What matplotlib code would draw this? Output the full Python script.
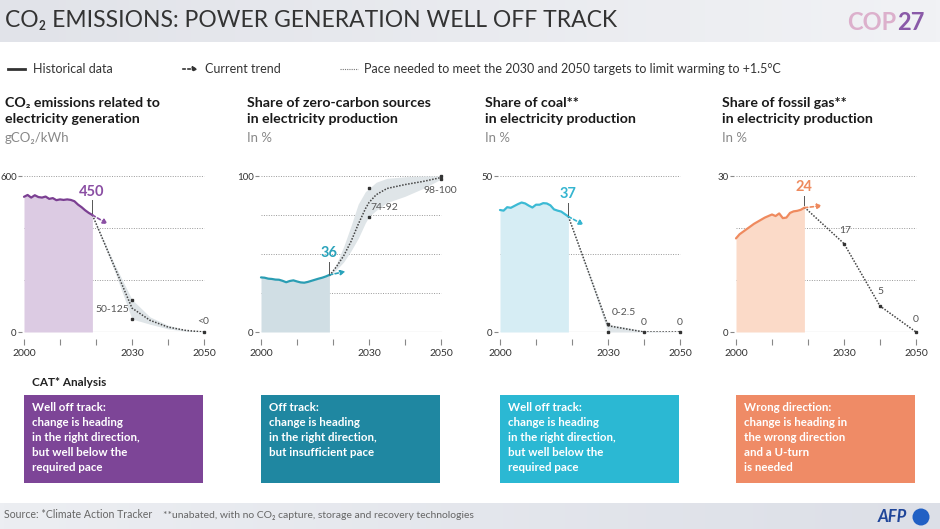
import numpy as np
import matplotlib.pyplot as plt
from matplotlib.patches import Rectangle, Circle
from matplotlib.colors import LinearSegmentedColormap

plt.rcParams['font.family'] = ['Lato', 'DejaVu Sans']

W, H = 940, 529

# historical data 2000-2019
hist_years = list(range(2000, 2020))
co2_hist = [520, 527, 517, 526, 519, 517, 521, 512, 515, 507, 510, 508, 510, 508, 503, 490, 480, 468, 458, 450]
zero_hist = [35, 34.8, 34.2, 34, 33.6, 33.5, 32.8, 31.9, 32.7, 33.1, 32.4, 31.8, 31.6, 32.1, 32.8, 33.5, 34.2, 34.8, 35.6, 36.6]
coal_hist = [39.1, 38.9, 40.0, 39.8, 40.4, 41.0, 41.5, 41.2, 40.5, 39.9, 40.8, 40.8, 41.3, 41.2, 40.6, 39.3, 38.9, 38.6, 37.8, 37.0]
gas_hist = [18.0, 18.8, 19.3, 19.8, 20.3, 20.8, 21.2, 21.6, 22.0, 22.3, 22.6, 22.3, 22.8, 21.9, 22.0, 22.9, 23.2, 23.3, 23.5, 23.9]

# pace needed for 1.5C
co2_pace_years = [2019, 2025, 2030, 2035, 2040, 2045, 2050]
co2_pace = [450, 255, 92, 45, 19, 6, 0]
co2_band_hi = [450, 265, 125, 58, 26, 8, 0]
co2_band_lo = [450, 240, 50, 30, 12, 3, 0]
co2_marks_x = [2030, 2030, 2050]
co2_marks_y = [125, 50, 0]

zero_pace_years = [2019, 2021, 2023, 2025, 2027, 2029, 2030, 2032, 2035, 2040, 2045, 2050]
zero_pace = [36, 42, 49, 58, 69, 79, 83, 88, 92, 94.5, 96.5, 99]
zero_band_hi = [36, 44, 55, 68, 82, 90, 92, 96, 98.5, 99.5, 100, 100]
zero_band_lo = [36, 40, 45, 52, 60, 70, 74, 78, 83, 87, 92, 98]
zero_marks_x = [2030, 2030, 2050, 2050]
zero_marks_y = [92, 74, 98, 100]

coal_pace_years = [2019, 2030, 2040, 2050]
coal_pace = [37, 2, 0, 0]
coal_band_hi = [37, 2.5, 0.4, 0]
coal_band_lo = [37, 0, 0, 0]
coal_marks_x = [2030, 2030, 2040, 2050]
coal_marks_y = [2.5, 0, 0, 0]

gas_pace_years = [2019, 2030, 2040, 2050]
gas_pace = [24, 17, 5, 0]
gas_marks_x = [2030, 2040, 2050]
gas_marks_y = [17, 5, 0]

# current trend arrow end (year, value)
co2_trend = (2023.3, 415)
zero_trend = (2023.5, 38.8)
coal_trend = (2023.3, 34.3)
gas_trend = (2024, 24.3)

titles = ['CO\u2082 emissions related to\nelectricity generation',
          'Share of zero-carbon sources\nin electricity production',
          'Share of coal**\nin electricity production',
          'Share of fossil gas**\nin electricity production']
units = ['gCO\u2082/kWh', 'In %', 'In %', 'In %']
last_labels = ['450', '36', '37', '24']
box_texts = ['Well off track:\nchange is heading\nin the right direction,\nbut well below the\nrequired pace',
             'Off track:\nchange is heading\nin the right direction,\nbut insufficient pace',
             'Well off track:\nchange is heading\nin the right direction,\nbut well below the\nrequired pace',
             'Wrong direction:\nchange is heading in\nthe wrong direction\nand a U-turn\nis needed']


def T(x, y, s, **kw):
    return fig.text(x / W, 1 - y / H, s, **kw)


fig = plt.figure(figsize=(9.4, 5.29), dpi=100)
fig.patch.set_facecolor('white')

# background layer in pixel coords
bg = fig.add_axes([0, 0, 1, 1])
bg.axis('off')
grad = np.linspace(0, 1, 256).reshape(1, -1)
bg.imshow(grad, extent=[0, W, 42, 0], aspect='auto',
          cmap=LinearSegmentedColormap.from_list('h', ['#e1e3e9', '#f1f2f5']))
bg.imshow(grad, extent=[0, W, H, 503], aspect='auto',
          cmap=LinearSegmentedColormap.from_list('f', ['#eceef2', '#dcdfe7']))
bg.set_xlim(0, W)
bg.set_ylim(H, 0)

T(5, 21, 'CO\u2082 EMISSIONS: POWER GENERATION WELL OFF TRACK', fontsize=16.5, color='#333333', va='center')
T(896, 22, 'COP', fontsize=17, color='#dcb0cc', va='center', ha='right', fontweight='bold')
T(897, 22, '27', fontsize=17, color='#8a5aa8', va='center', ha='left', fontweight='bold')

# legend
bg.plot([8, 25], [69, 69], color='#333333', lw=2)
T(33, 69, 'Historical data', fontsize=9, color='#333333', va='center')
bg.annotate('', xy=(201, 69), xytext=(180, 69),
            arrowprops=dict(arrowstyle='-|>', color='#333333', lw=1.2, ls=(0, (1.5, 1.5)), mutation_scale=7))
T(205, 69, 'Current trend', fontsize=9, color='#333333', va='center')
bg.plot([340, 358], [69, 69], color='#777777', lw=0.8, ls=(0, (1, 1)))
T(364, 69, 'Pace needed to meet the 2030 and 2050 targets to limit warming to +1.5\u00b0C',
  fontsize=9, color='#333333', va='center')

panels = [
    dict(hist=co2_hist, py=co2_pace_years, pace=co2_pace, hi=co2_band_hi, lo=co2_band_lo,
         mx=co2_marks_x, my=co2_marks_y, trend=co2_trend, top=600, grid=[200, 400, 600],
         line='#7b3f92', fill='#dccbe3', lab='#8a4ea3', x0=24, lab_y=537, conn=(456, 507)),
    dict(hist=zero_hist, py=zero_pace_years, pace=zero_pace, hi=zero_band_hi, lo=zero_band_lo,
         mx=zero_marks_x, my=zero_marks_y, trend=zero_trend, top=100, grid=[25, 50, 75, 100],
         line='#2a9db3', fill='#d0dee4', lab='#2aa3bb', x0=261, lab_y=50.5, conn=(37.5, 45)),
    dict(hist=coal_hist, py=coal_pace_years, pace=coal_pace, hi=coal_band_hi, lo=coal_band_lo,
         mx=coal_marks_x, my=coal_marks_y, trend=coal_trend, top=50, grid=[25, 50],
         line='#3cbad4', fill='#d6edf4', lab='#35b5d0', x0=500, lab_y=44.1, conn=(37.5, 41.5)),
    dict(hist=gas_hist, py=gas_pace_years, pace=gas_pace, hi=None, lo=None,
         mx=gas_marks_x, my=gas_marks_y, trend=gas_trend, top=30, grid=[10, 20, 30],
         line='#ef8a5e', fill='#fbdac8', lab='#ee8a5e', x0=736, lab_y=27.8, conn=(24.4, 26.2)),
]

ppy = 3.6
title_x = [5, 247, 485, 722]
box_colors = ['#7d4597', '#1f87a1', '#2bb8d3', '#ef8b66']
axes = []
for i, p in enumerate(panels):
    left = p['x0'] - 0.5 * ppy
    ax = fig.add_axes([left / W, 1 - 332 / H, 51 * ppy / W, 156 / H])
    ax.patch.set_alpha(0)
    ax.set_xlim(1999.5, 2050.5)
    ax.set_ylim(0, p['top'])
    for s in ['top', 'right', 'left', 'bottom']:
        ax.spines[s].set_visible(False)
    ax.spines['bottom'].set_position(('outward', 5))
    ax.set_xticks([2000, 2010, 2020, 2030, 2040, 2050])
    ax.set_xticklabels(['2000', '', '', '2030', '', '2050'])
    ax.tick_params(axis='x', length=4, color='#888888', labelsize=7.5, labelcolor='#333333', pad=3)
    ax.set_yticks([0, p['top']])
    ax.tick_params(axis='y', length=3, color='#888888', labelsize=7, labelcolor='#333333', pad=1)
    for g in p['grid']:
        ax.plot([2000, 2050], [g, g], color='#999999', lw=0.7, ls=(0, (1, 1.5)), zorder=1)
    ax.plot([2000, 2050], [0, 0], color='#999999', lw=0.8, zorder=1)

    ax.fill_between(hist_years, p['hist'], 0, color=p['fill'], lw=0, zorder=2)
    ax.plot(hist_years, p['hist'], color=p['line'], lw=1.6, zorder=4, solid_capstyle='round')
    if p['hi'] is not None:
        ax.fill_between(p['py'], p['lo'], p['hi'], color='#dfe5e8', lw=0, zorder=3)
    ax.plot(p['py'], p['pace'], color='#444444', lw=1.1, ls=(0, (1, 1)), zorder=5)
    ax.plot(p['mx'], p['my'], 's', color='#333333', ms=2, zorder=6, clip_on=False)

    ax.annotate('', xy=p['trend'], xytext=(hist_years[-1], p['hist'][-1]),
                arrowprops=dict(arrowstyle='-|>', color=p['lab'], lw=1.2, ls=(0, (2, 1.5)),
                                mutation_scale=7, shrinkA=0, shrinkB=0), zorder=6)
    ax.plot([hist_years[-1]] * 2, list(p['conn']), color='#555555', lw=0.7, zorder=6)
    ax.text(hist_years[-1] - 0.2, p['lab_y'], last_labels[i], color=p['lab'], fontsize=10.5,
            fontweight='bold', ha='center', va='center')
    axes.append(ax)

    T(title_x[i], 111, titles[i], fontsize=10.2, fontweight='bold', color='#1a1a1a',
      va='center', linespacing=1.4)
    T(title_x[i], 138, units[i], fontsize=9.5, color='#888888', va='center')

    bx = p['x0']
    bg.add_patch(Rectangle((bx, 395), 179, 88, color=box_colors[i], lw=0))
    T(bx + 8, 402, box_texts[i], fontsize=8.3, fontweight='bold', color='white',
      va='top', linespacing=1.45)

# value labels
lab_kw = dict(fontsize=7.5, color='#555555', va='center')
axes[0].text(2029.3, 85, '50-125', ha='right', **lab_kw)
axes[0].text(2049.7, 41, '<0', ha='center', **lab_kw)
axes[1].text(2030.4, 80, '74-92', ha='left', **lab_kw)
axes[1].text(2049.7, 90.4, '98-100', ha='center', **lab_kw)
axes[2].text(2034.4, 6.1, '0-2.5', ha='center', **lab_kw)
axes[2].text(2039.8, 3.2, '0', ha='center', **lab_kw)
axes[2].text(2049.8, 3.2, '0', ha='center', **lab_kw)
axes[3].text(2030.3, 19.6, '17', ha='center', **lab_kw)
axes[3].text(2040.2, 7.8, '5', ha='center', **lab_kw)
axes[3].text(2050, 2.4, '0', ha='center', **lab_kw)

T(32, 383, 'CAT* Analysis', fontsize=8.5, fontweight='bold', color='#222222', va='center')

# footer
T(4, 515, 'Source: *Climate Action Tracker', fontsize=7.6, color='#666666', va='center')
T(163, 515, '**unabated, with no CO\u2082 capture, storage and recovery technologies', fontsize=7.5,
  color='#666666', va='center')
T(878, 517, 'AFP', fontsize=12, fontweight='bold', style='italic', color='#1f4599', va='center')
bg.add_patch(Circle((921, 517), 8.5, color='#2160c4', lw=0))

fig.savefig('out.png', dpi=100)
